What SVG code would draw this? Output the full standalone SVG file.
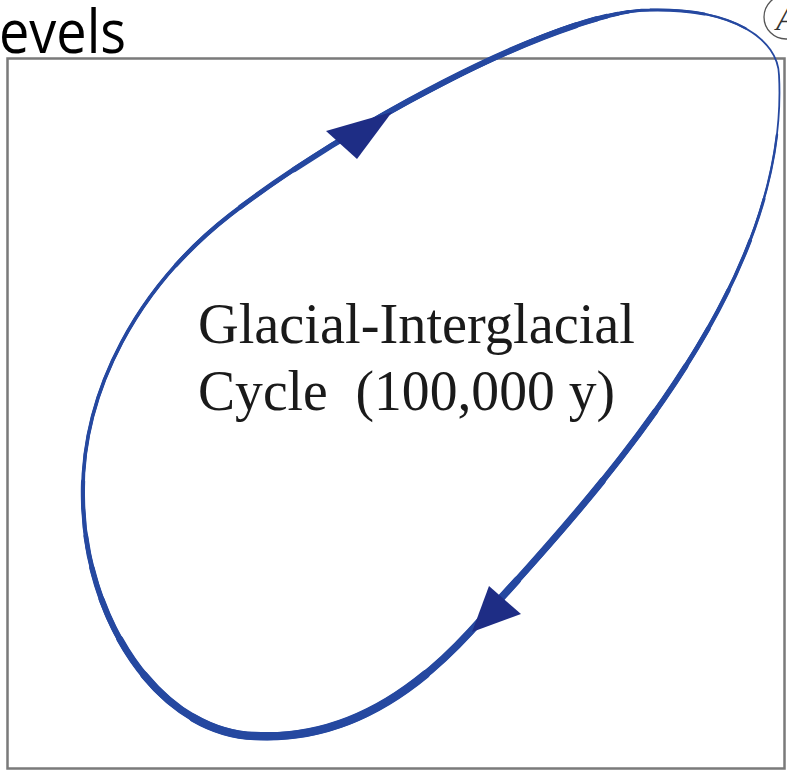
<svg xmlns="http://www.w3.org/2000/svg" width="787" height="771" viewBox="0 0 787 771">
<style>
.lp{fill:none;stroke:#2548a0;stroke-linecap:round;stroke-linejoin:round}
.head{fill:#1e2d85}
.lbl{font-family:"Liberation Serif","Times New Roman",serif;font-size:58px;fill:#1a1a1a}
</style>
<defs>
<path id="loop" pathLength="1000" d="M650,10 C735,8 778,40 779,75 C790,280 610,480 470,632 C400,708 330,740 255,736 C160,733 85,620 83,500 C80,390 140,285 230,215 C338,131 560,10 650,10 Z"/>
</defs>
<rect width="787" height="771" fill="#fff"/>
<text x="-1" y="53" font-family="'Open Sans','Liberation Sans',Arial,sans-serif" font-size="60" fill="#000" textLength="127" lengthAdjust="spacingAndGlyphs">evels</text>
<g id="frame">
<rect x="7.5" y="58.5" width="777" height="710" fill="none" stroke="#7a7a7a" stroke-width="2.5"/>
</g>
<g id="markerA">
<circle cx="786" cy="17" r="22" fill="#fff" stroke="#555" stroke-width="1.3"/>
<text x="776" y="30" font-family="'Liberation Serif',serif" font-style="italic" font-size="34" fill="#333">A</text>
</g>
<g id="connectors">
<use href="#loop" class="lp" stroke-width="1.8"/>
<use href="#loop" class="lp" stroke-width="2.4" stroke-dasharray="45 55 900 2000"/>
<use href="#loop" class="lp" stroke-width="3.0" stroke-dasharray="25 105 870 2000"/>
<use href="#loop" class="lp" stroke-width="3.6" stroke-dasharray="840 2000" stroke-dashoffset="-150"/>
<use href="#loop" class="lp" stroke-width="4.2" stroke-dasharray="465 110 235 2000" stroke-dashoffset="-175"/>
<use href="#loop" class="lp" stroke-width="4.8" stroke-dasharray="420 175 190 2000" stroke-dashoffset="-195"/>
<use href="#loop" class="lp" stroke-width="5.4" stroke-dasharray="385 220 155 2000" stroke-dashoffset="-215"/>
<use href="#loop" class="lp" stroke-width="6.0" stroke-dasharray="345 275 105 2000" stroke-dashoffset="-240"/>
<use href="#loop" class="lp" stroke-width="6.8" stroke-dasharray="285 2000" stroke-dashoffset="-280"/>
<use href="#loop" class="lp" stroke-width="7.6" stroke-dasharray="205 2000" stroke-dashoffset="-340"/>
<use href="#loop" class="lp" stroke-width="8.4" stroke-dasharray="115 2000" stroke-dashoffset="-400"/>
<polygon class="head" points="326,131 357,159 392,112"/>
<polygon class="head" points="489,586 521,614 472,632"/>
</g>
<g id="label">
<text class="lbl" x="198" y="343" textLength="437" lengthAdjust="spacingAndGlyphs">Glacial-Interglacial</text>
<text class="lbl" x="198" y="410" textLength="417" lengthAdjust="spacingAndGlyphs" xml:space="preserve">Cycle  (100,000 y)</text>
</g>
</svg>
